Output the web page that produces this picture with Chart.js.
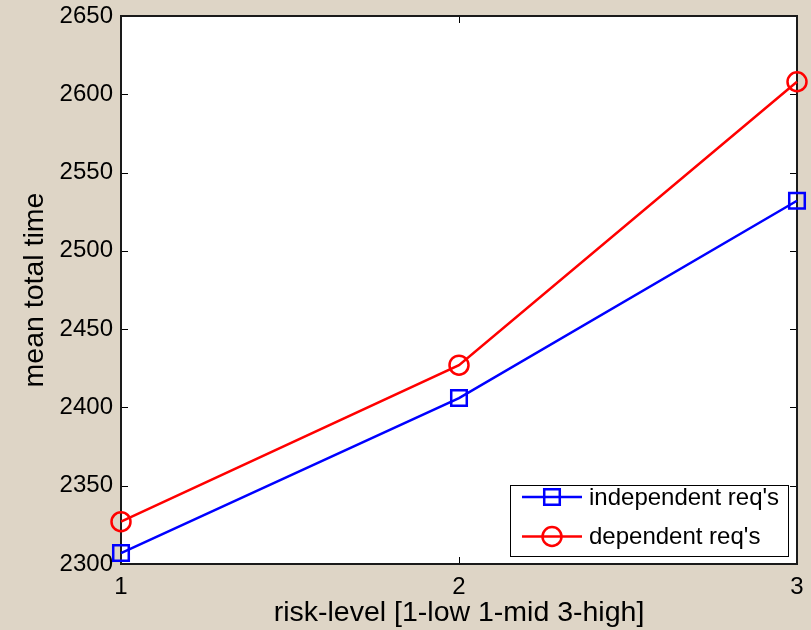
<!DOCTYPE html>
<html>
<head>
<meta charset="utf-8">
<script src="https://cdn.jsdelivr.net/npm/chart.js@4.4.0/dist/chart.umd.min.js"></script>
<style>
  html, body { margin: 0; padding: 0; background: #ded5c6; }
  #wrap { width: 811px; height: 630px; }
</style>
</head>
<body>
<div id="wrap"><canvas id="chart" width="811" height="630"></canvas></div>
<script>
// 数据
const riskLevels = ['1', '2', '3'];
const independentTimes = [2307, 2406, 2532];
const dependentTimes = [2327, 2427, 2608];
const yMin = 2300, yMax = 2650, yStep = 50;
const seriesNames = ["independent req's", "dependent req's"];

const FONT = "'Liberation Sans', Arial, sans-serif";

// 画白底、内侧刻度、边框和图例 (MATLAB 风格)
const matlabAxes = {
    id: 'matlabAxes',
    beforeDraw(chart) {
        const { ctx, chartArea: a } = chart;
        ctx.save();
        ctx.fillStyle = '#ffffff';
        ctx.fillRect(a.left, a.top, a.right - a.left, a.bottom - a.top);
        ctx.restore();
    },
    beforeDatasetsDraw(chart) {
        const { ctx, chartArea: a, scales } = chart;
        const tl = 7;
        ctx.save();
        ctx.strokeStyle = '#000';
        ctx.lineWidth = 1;
        ctx.beginPath();
        scales.y.ticks.forEach((t, i) => {
            const y = Math.round(scales.y.getPixelForTick(i)) + 0.5;
            ctx.moveTo(a.left, y); ctx.lineTo(a.left + tl, y);
            ctx.moveTo(a.right - tl, y); ctx.lineTo(a.right, y);
        });
        scales.x.ticks.forEach((t, i) => {
            const x = Math.round(scales.x.getPixelForTick(i)) + 0.5;
            ctx.moveTo(x, a.bottom); ctx.lineTo(x, a.bottom - tl);
            ctx.moveTo(x, a.top); ctx.lineTo(x, a.top + tl);
        });
        ctx.stroke();
        ctx.lineWidth = 2;
        ctx.strokeStyle = '#1a1a1a';
        ctx.strokeRect(a.left, a.top, a.right - a.left, a.bottom - a.top);
        ctx.restore();
    },
    afterDatasetsDraw(chart) {
        const { ctx } = chart;
        const box = { x: 510, y: 485, w: 278, h: 71 };
        ctx.save();
        ctx.fillStyle = '#fff';
        ctx.fillRect(box.x, box.y, box.w, box.h);
        ctx.strokeStyle = '#000';
        ctx.lineWidth = 1;
        ctx.strokeRect(box.x + 0.5, box.y + 0.5, box.w, box.h);
        chart.data.datasets.forEach((ds, i) => {
            const y = 497 + i * 39.5;
            ctx.strokeStyle = ds.borderColor;
            ctx.lineWidth = ds.borderWidth;
            ctx.beginPath();
            ctx.moveTo(522, y); ctx.lineTo(582, y);
            ctx.stroke();
            ctx.lineWidth = ds.pointBorderWidth;
            ctx.beginPath();
            if (ds.pointStyle === 'rect') {
                const s = ds.pointRadius * Math.SQRT1_2;
                ctx.rect(552 - s, y - s, 2 * s, 2 * s);
            } else {
                ctx.arc(552, y, ds.pointRadius, 0, Math.PI * 2);
            }
            ctx.stroke();
            ctx.fillStyle = '#000';
            ctx.font = '24px ' + FONT;
            ctx.textBaseline = 'middle';
            ctx.textAlign = 'left';
            ctx.fillText(ds.label, 589, y + 1);
        });
        ctx.restore();
    }
};

const ctx = document.getElementById('chart').getContext('2d');
new Chart(ctx, {
    type: 'line',
    data: {
        labels: riskLevels,
        datasets: [{
            label: seriesNames[0],
            data: independentTimes,
            borderColor: '#0000ff',
            borderWidth: 2.5,
            pointStyle: 'rect',
            pointRadius: 11,
            pointBorderWidth: 2.5,
            pointBackgroundColor: 'rgba(0,0,0,0)',
            pointBorderColor: '#0000ff',
            tension: 0,
            clip: false
        }, {
            label: seriesNames[1],
            data: dependentTimes,
            borderColor: '#ff0000',
            borderWidth: 2.5,
            pointStyle: 'circle',
            pointRadius: 9.5,
            pointBorderWidth: 2.5,
            pointBackgroundColor: 'rgba(0,0,0,0)',
            pointBorderColor: '#ff0000',
            tension: 0,
            clip: false
        }]
    },
    options: {
        responsive: false,
        animation: false,
        devicePixelRatio: 1,
        layout: { padding: { top: 16, right: 14, left: 0, bottom: 0 } },
        plugins: {
            legend: { display: false },
            tooltip: { enabled: false }
        },
        scales: {
            x: {
                type: 'category',
                offset: false,
                grid: { display: false, drawTicks: false },
                border: { display: false },
                ticks: { color: '#000', font: { family: FONT, size: 24 }, padding: 9, maxRotation: 0 },
                title: {
                    display: true,
                    text: 'risk-level [1-low 1-mid 3-high]',
                    color: '#000',
                    font: { family: FONT, size: 28.5 },
                    padding: { top: 0, bottom: 0 }
                },
                afterFit(scale) {
                    scale.height = 66;
                    scale.paddingLeft = 0;
                    scale.paddingRight = 0;
                }
            },
            y: {
                min: yMin,
                max: yMax,
                grid: { display: false, drawTicks: false },
                border: { display: false },
                ticks: {
                    stepSize: yStep,
                    color: '#000',
                    font: { family: FONT, size: 24 },
                    padding: 8,
                    callback: v => String(v)
                },
                title: {
                    display: true,
                    text: 'mean total time',
                    color: '#000',
                    font: { family: FONT, size: 28.5 },
                    padding: { top: 18, bottom: 0 }
                },
                afterFit(scale) {
                    scale.width = 121;
                    scale.paddingTop = 0;
                    scale.paddingBottom = 0;
                }
            }
        }
    },
    plugins: [matlabAxes]
});
</script>
</body>
</html>
